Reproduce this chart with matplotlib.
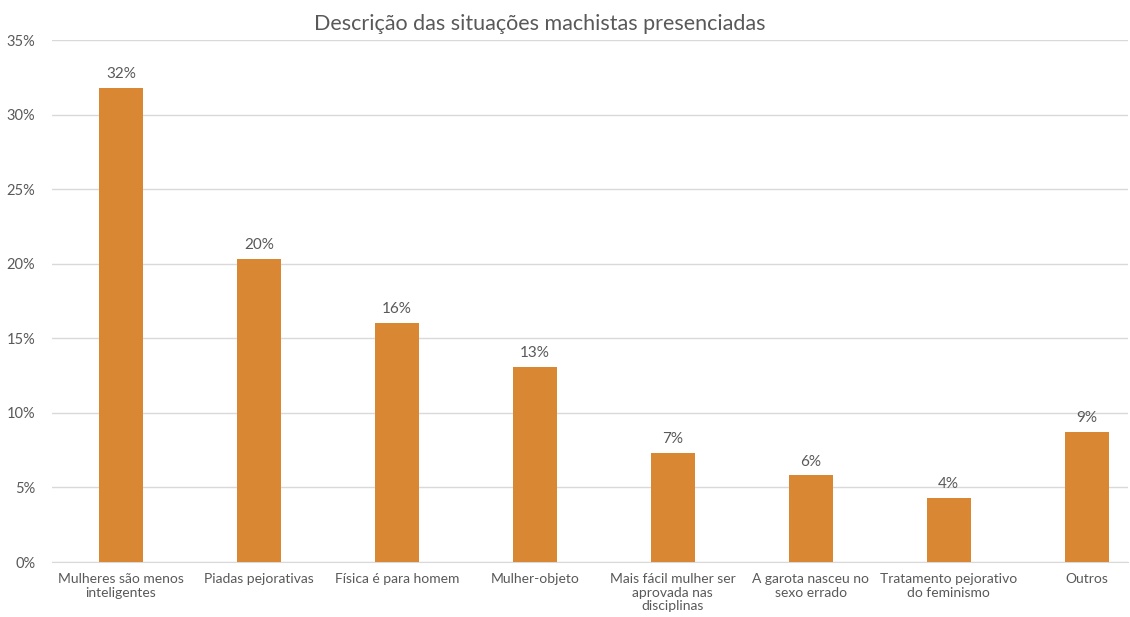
import matplotlib.pyplot as plt
from matplotlib.ticker import FuncFormatter

categorias = [
    "Mulheres são menos\ninteligentes",
    "Piadas pejorativas",
    "Física é para homem",
    "Mulher-objeto",
    "Mais fácil mulher ser\naprovada nas\ndisciplinas",
    "A garota nasceu no\nsexo errado",
    "Tratamento pejorativo\ndo feminismo",
    "Outros",
]
valores = [31.8, 20.3, 16.0, 13.1, 7.3, 5.8, 4.3, 8.7]

cor_barra = "#DA8733"
cor_texto = "#595959"

plt.rcParams["font.family"] = ["Lato", "DejaVu Sans"]

fig = plt.figure(figsize=(11.3, 6.17), dpi=100)
ax = fig.add_axes([52 / 1130, 55 / 617, (1128 - 52) / 1130, 522 / 617])

x = list(range(len(categorias)))
bars = ax.bar(x, valores, width=0.32, color=cor_barra, zorder=3)

for b, v in zip(bars, valores):
    ax.annotate(f"{v:.0f}%", (b.get_x() + b.get_width() / 2, v),
                xytext=(0, 5), textcoords="offset points",
                ha="center", va="bottom", fontsize=11, color=cor_texto)

ax.set_xlim(-0.5, 7.3)
ax.set_ylim(0, 35)
ax.set_yticks(range(0, 36, 5))
ax.yaxis.set_major_formatter(FuncFormatter(lambda v, p: f"{v:.0f}%"))
ax.set_xticks(x)
ax.set_xticklabels(categorias, fontsize=10, color=cor_texto, linespacing=1.15)
ax.tick_params(axis="y", labelsize=10.5, labelcolor=cor_texto, length=0, pad=12)
ax.tick_params(axis="x", length=0, pad=8)

ax.grid(axis="y", color="#D9D9D9", linewidth=1, zorder=0)
for s in ["top", "right", "left"]:
    ax.spines[s].set_visible(False)
ax.spines["bottom"].set_color("#D9D9D9")

fig.text(540 / 1130, 1 - 24 / 617, "Descrição das situações machistas presenciadas",
         ha="center", va="center", fontsize=15.5, color=cor_texto)

fig.savefig("out.png", dpi=100, facecolor="white")
